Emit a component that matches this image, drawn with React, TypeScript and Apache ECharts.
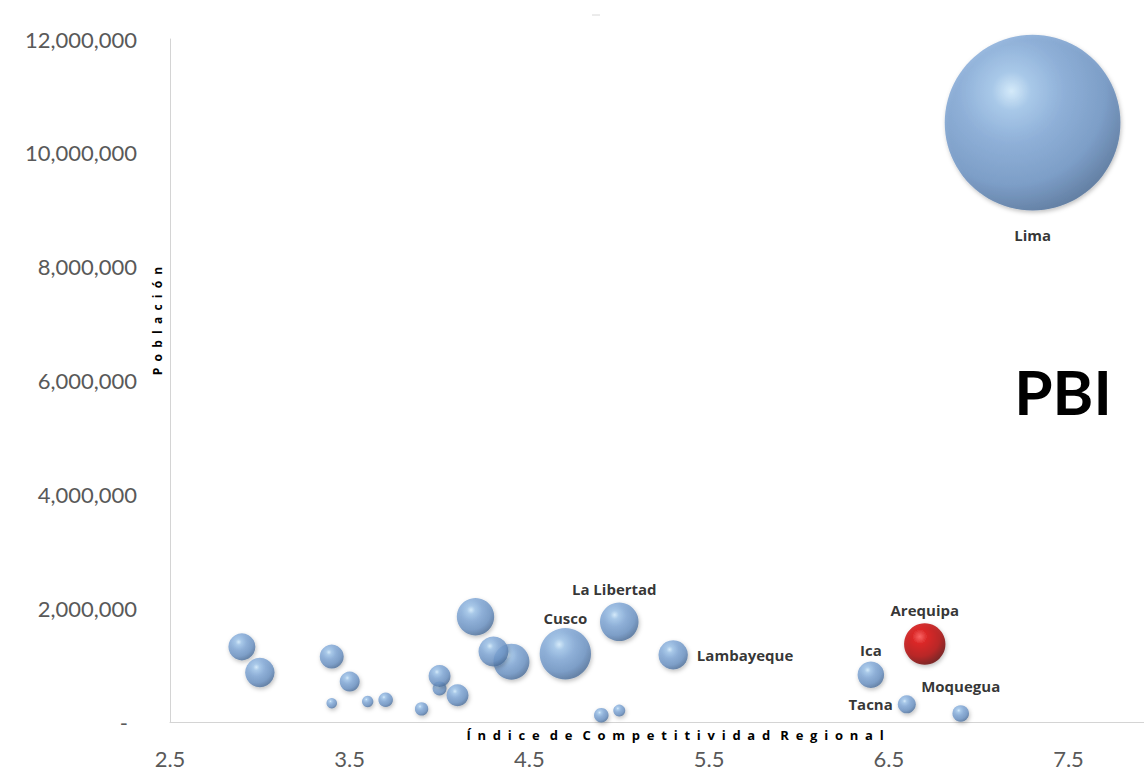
import React, { useEffect, useRef } from "react";
import * as echarts from "echarts";

// Regiones del Perú: índice de competitividad, población y PBI (tamaño de burbuja)
const regiones = [
  "Lima", "", "", "", "", "", "", "", "", "", "", "", "", "", "",
  "Cusco", "La Libertad", "Lambayeque", "", "", "Ica", "Tacna", "Moquegua", "Arequipa",
];
const indice = [
  7.3, 2.9, 3.0, 3.4, 3.5, 3.4, 3.6, 3.7, 3.9, 4.0, 4.0, 4.1, 4.2, 4.4, 4.3,
  4.7, 5.0, 5.3, 4.9, 5.0, 6.4, 6.6, 6.9, 6.7,
];
const poblacion = [
  10530000, 1320000, 870000, 1150000, 710000, 330000, 360000, 390000, 230000, 590000, 810000, 470000,
  1850000, 1060000, 1240000, 1200000, 1760000, 1180000, 120000, 200000, 830000, 310000, 150000, 1370000,
];
const pbi = [
  193000, 4560, 5400, 3600, 2500, 700, 810, 1330, 1120, 1220, 3020, 3020, 8740, 8100, 5600,
  16500, 9300, 5400, 1330, 900, 4420, 2020, 1720, 10700,
];
const destacada = "Arequipa";

const xTicks = [2.5, 3.5, 4.5, 5.5, 6.5, 7.5];
const yTicks = [0, 2000000, 4000000, 6000000, 8000000, 10000000, 12000000];

const tituloX = "Índice de Competitividad Regional";
const tituloY = "Población";

// spread letters apart, as in the axis titles
const espaciar = (s: string) =>
  s.split(" ").map((w) => w.split("").join("  ")).join("   ");

const etiquetas: Record<string, [string, number, number[]?]> = {
  Lima: ["bottom", 17],
  Cusco: ["top", 3],
  "La Libertad": ["top", 6, [-5, 0]],
  Lambayeque: ["right", 9],
  Arequipa: ["top", 6],
  Ica: ["top", 4],
  Tacna: ["left", 5],
  Moquegua: ["top", 12],
};

const esferaAzul = {
  type: "radial",
  x: 0.38,
  y: 0.32,
  r: 0.74,
  colorStops: [
    { offset: 0, color: "#d2ecff" },
    { offset: 0.15, color: "#9cc3ea" },
    { offset: 0.4, color: "#7ea6d6" },
    { offset: 0.72, color: "#6890c2" },
    { offset: 1, color: "#456690" },
  ],
};

const esferaRoja = {
  type: "radial",
  x: 0.38,
  y: 0.32,
  r: 0.74,
  colorStops: [
    { offset: 0, color: "#ff4a4a" },
    { offset: 0.25, color: "#d80000" },
    { offset: 0.65, color: "#b00000" },
    { offset: 1, color: "#5a0000" },
  ],
};

export default function App() {
  const ref = useRef<HTMLDivElement>(null);

  useEffect(() => {
    if (!ref.current) return;
    const chart = echarts.init(ref.current, null, { renderer: "svg" });

    const data = regiones.map((nombre, i) => {
      const lab = etiquetas[nombre];
      return {
        name: nombre,
        value: [indice[i], poblacion[i], pbi[i]],
        symbolSize: Math.sqrt(pbi[i]) * 0.4,
        itemStyle: {
          color: nombre === destacada ? esferaRoja : esferaAzul,
          shadowBlur: 4,
          shadowColor: "rgba(0,0,0,0.3)",
          shadowOffsetY: 2,
          shadowOffsetX: 1,
        },
        label: lab
          ? {
              show: true,
              position: lab[0],
              distance: lab[1],
              offset: lab[2] || [0, 0],
              formatter: nombre,
              fontFamily: "Open Sans",
              fontWeight: "bold",
              fontSize: 15,
              color: "#000000",
            }
          : { show: false },
      };
    });

    const axisFont = { fontFamily: "Lato", fontSize: 22, color: "#595959" };

    chart.setOption({
      animation: false,
      backgroundColor: "#ffffff",
      grid: { left: 170, right: 0, top: 39, bottom: 49, containLabel: false },
      xAxis: {
        type: "value",
        min: 2.5,
        max: 7.92,
        splitLine: { show: false },
        axisTick: { show: false },
        axisLine: { show: true, lineStyle: { color: "#d4d4d4", width: 1 } },
        axisLabel: {
          ...axisFont,
          margin: 25,
          customValues: xTicks,
          formatter: (v: number) => v.toFixed(1),
        },
      },
      yAxis: {
        type: "value",
        min: 0,
        max: 12000000,
        interval: 2000000,
        splitLine: { show: false },
        axisTick: { show: false },
        axisLine: { show: true, lineStyle: { color: "#d4d4d4", width: 1 } },
        axisLabel: {
          ...axisFont,
          margin: 33,
          customValues: yTicks,
          formatter: (v: number) =>
            v === 0 ? "{g|-}" : v.toLocaleString("en-US"),
          rich: { g: { ...axisFont, padding: [0, 9, 0, 0] } },
        },
      },
      graphic: [
        {
          type: "text",
          x: 675,
          y: 735,
          style: {
            text: espaciar(tituloX),
            fontFamily: "Open Sans",
            fontWeight: "bold",
            fontSize: 13,
            fill: "#000000",
            align: "center",
            verticalAlign: "middle",
          },
        },
        {
          type: "text",
          x: 157,
          y: 321,
          rotation: Math.PI / 2,
          style: {
            text: espaciar(tituloY),
            fontFamily: "Open Sans",
            fontWeight: "bold",
            fontSize: 12,
            fill: "#000000",
            align: "center",
            verticalAlign: "middle",
          },
        },
        {
          type: "text",
          x: 1063,
          y: 391,
          style: {
            text: "PBI",
            fontFamily: "Lato",
            fontWeight: "bold",
            fontSize: 62,
            fill: "#000000",
            align: "center",
            verticalAlign: "middle",
          },
        },
        {
          type: "line",
          shape: { x1: 592, y1: 15, x2: 600, y2: 15 },
          style: { stroke: "#d8d8d8", lineWidth: 1 },
        },
      ],
      series: [
        {
          type: "scatter",
          data,
          emphasis: { disabled: true },
        },
      ],
    });

    return () => chart.dispose();
  }, []);

  return (
    <div
      ref={ref}
      style={{ position: "absolute", left: 0, top: 0, width: 1144, height: 771 }}
    />
  );
}
